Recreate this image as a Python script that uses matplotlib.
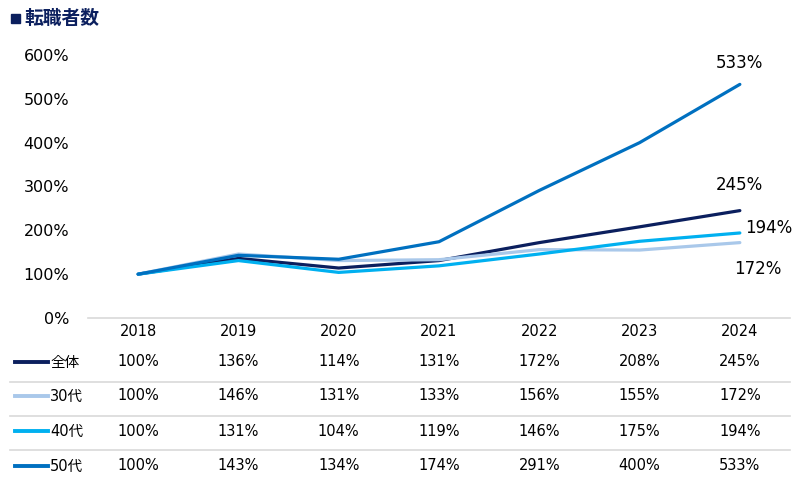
import matplotlib.pyplot as plt
from matplotlib.patches import Rectangle
from matplotlib.transforms import blended_transform_factory

plt.rcParams['font.family'] = ['DejaVu Sans', 'Noto Sans CJK JP']

years = ['2018', '2019', '2020', '2021', '2022', '2023', '2024']
series_names = ['全体', '30代', '40代', '50代']
zentai = [100, 136, 114, 131, 172, 208, 245]
s30 = [100, 146, 131, 133, 156, 155, 172]
s40 = [100, 131, 104, 119, 146, 175, 194]
s50 = [100, 143, 134, 174, 291, 400, 533]
colors = ['#0B1F5E', '#A9C8EA', '#00B0F0', '#0070C0']

all_series = [zentai, s30, s40, s50]

W, H = 800, 487
fig = plt.figure(figsize=(8, 4.87), dpi=100)
ax = fig.add_axes([88 / W, 1 - 318 / H, 702 / W, 263 / H])

x = range(len(years))
for vals, c in zip(all_series, colors):
    ax.plot(x, vals, color=c, lw=2.3, solid_capstyle='round')

ax.set_xlim(-0.5, len(years) - 0.5)
ax.set_ylim(0, 600)
ax.set_yticks(range(0, 601, 100))
ax.set_yticklabels([f'{v}%' for v in range(0, 601, 100)], fontsize=11.5)
ax.set_xticks(list(x))
ax.set_xticklabels(years, fontsize=10.5)
ax.tick_params(axis='both', length=0)
ax.tick_params(axis='y', pad=13.5)
ax.tick_params(axis='x', pad=4)
for s in ['top', 'right', 'left']:
    ax.spines[s].set_visible(False)
ax.spines['bottom'].set_color('#D9D9D9')
ax.spines['bottom'].set_linewidth(1.2)

# end labels
last = len(years) - 1
lab = dict(textcoords='offset points', ha='center', va='center', fontsize=12)
ax.annotate(f'{s50[-1]}%', (last, s50[-1]), xytext=(0, 15.5), **lab)
ax.annotate(f'{zentai[-1]}%', (last, zentai[-1]), xytext=(0, 18.5), **lab)
ax.annotate(f'{s40[-1]}%', (last, s40[-1]), xytext=(21, 3.6), **lab)
ax.annotate(f'{s30[-1]}%', (last, s30[-1]), xytext=(12.6, -19), **lab)

# data table below the chart
tr = blended_transform_factory(ax.transData, fig.transFigure)
row_y = [362, 396, 431, 466]
for i, (name, vals, c) in enumerate(zip(series_names, all_series, colors)):
    yf = 1 - row_y[i] / H
    fig.add_artist(plt.Line2D([15 / W, 48 / W], [yf, yf], color=c, lw=2.8,
                              transform=fig.transFigure))
    fig.text(50 / W, yf, name, fontsize=10.5, va='center', ha='left')
    for j, v in enumerate(vals):
        fig.text(j, yf, f'{v}%', fontsize=10.5, va='center', ha='center', transform=tr)

for yp in [382, 416, 450]:
    yf = 1 - yp / H
    fig.add_artist(plt.Line2D([10 / W, 790 / W], [yf, yf], color='#D9D9D9', lw=1.2,
                              transform=fig.transFigure))

# title
fig.add_artist(Rectangle((11 / W, 1 - 22.5 / H), 8.5 / W, 8.5 / H, color='#0B1F5E',
                         transform=fig.transFigure))
fig.text(24 / W, 1 - 18 / H, '転職者数', fontsize=13.5, fontweight='bold',
         color='#0B1F5E', va='center', ha='left',
         family=['Noto Sans CJK JP', 'DejaVu Sans'])

fig.savefig('out.png', dpi=100)
